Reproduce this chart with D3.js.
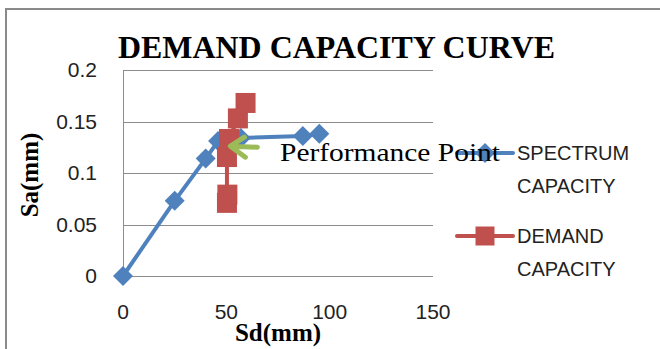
<!DOCTYPE html>
<html>
<head>
<meta charset="utf-8">
<script src="https://cdn.jsdelivr.net/npm/d3@7"></script>
<style>
  body { margin: 0; background: #fff; }
  svg { display: block; }
</style>
</head>
<body>
<script>
var width = 660,
    height = 349;

// spectrum capacity curve (Sd mm, Sa)
var spectrumSd = [0, 25, 40, 46, 57, 87, 95];
var spectrumSa = [0, 0.073, 0.114, 0.131, 0.134, 0.136, 0.138];

// demand curve
var demandSd = [50.5, 50.3, 50.3, 51.3, 55.6, 59.3];
var demandSa = [0.079, 0.071, 0.1155, 0.133, 0.153, 0.168];

var xTicks = [0, 50, 100, 150];
var yTicks = [0, 0.05, 0.1, 0.15, 0.2];

var perfPoint = [51, 0.126];

var blue = "#4f81bd", red = "#c0504d", green = "#9bbb59";

var svg = d3.select("body").append("svg")
    .attr("width", width)
    .attr("height", height);

// chart border
svg.append("rect")
    .attr("x", 6).attr("y", 9)
    .attr("width", 700).attr("height", 400)
    .attr("fill", "none")
    .attr("stroke", "#8a8a8a")
    .attr("stroke-width", 2);

var x = d3.scaleLinear().domain([0, 150]).range([123, 433]);
var y = d3.scaleLinear().domain([0, 0.2]).range([276, 70]);

// gridlines
svg.append("g")
  .selectAll("line")
    .data(yTicks)
  .enter().append("line")
    .attr("x1", x(0)).attr("x2", x(150))
    .attr("y1", function(d) { return Math.round(y(d)) + 0.5; })
    .attr("y2", function(d) { return Math.round(y(d)) + 0.5; })
    .attr("stroke", "#8c8c8c")
    .attr("stroke-width", 1);

svg.append("line")
    .attr("x1", x(0) + 0.5).attr("x2", x(0) + 0.5)
    .attr("y1", y(0.2)).attr("y2", y(0))
    .attr("stroke", "#8c8c8c");

var tickFont = "'Liberation Sans', Arial, sans-serif";

svg.append("g")
  .selectAll("text")
    .data(yTicks)
  .enter().append("text")
    .attr("x", 97)
    .attr("y", function(d) { return y(d); })
    .attr("dy", "0.35em")
    .attr("text-anchor", "end")
    .style("font-family", tickFont)
    .style("font-size", "21px")
    .style("fill", "#222")
    .text(function(d) { return d; });

svg.append("g")
  .selectAll("text")
    .data(xTicks)
  .enter().append("text")
    .attr("x", function(d) { return x(d); })
    .attr("y", 312)
    .attr("dy", "0.35em")
    .attr("text-anchor", "middle")
    .style("font-family", tickFont)
    .style("font-size", "21px")
    .style("fill", "#222")
    .text(function(d) { return d; });

// titles
var serif = "'Liberation Serif', 'Times New Roman', serif";

svg.append("text")
    .attr("x", 118).attr("y", 58)
    .attr("textLength", 437)
    .attr("lengthAdjust", "spacingAndGlyphs")
    .style("font-family", serif)
    .style("font-weight", "bold")
    .style("font-size", "32px")
    .text("DEMAND CAPACITY CURVE");

svg.append("text")
    .attr("x", x(75)).attr("y", 341)
    .attr("text-anchor", "middle")
    .style("font-family", serif)
    .style("font-weight", "bold")
    .style("font-size", "25px")
    .text("Sd(mm)");

svg.append("text")
    .attr("transform", "translate(38," + (y(0.1) + 2) + ") rotate(-90)")
    .attr("text-anchor", "middle")
    .style("font-family", serif)
    .style("font-weight", "bold")
    .style("font-size", "25px")
    .text("Sa(mm)");

var line = d3.line()
    .x(function(d) { return x(d[0]); })
    .y(function(d) { return y(d[1]); });

var spectrum = d3.zip(spectrumSd, spectrumSa);
var demand = d3.zip(demandSd, demandSa);

// spectrum series
svg.append("path")
    .datum(spectrum)
    .attr("d", line)
    .attr("fill", "none")
    .attr("stroke", blue)
    .attr("stroke-width", 4)
    .attr("stroke-linejoin", "round");

svg.append("g")
  .selectAll("path")
    .data(spectrum)
  .enter().append("path")
    .attr("d", d3.symbol().type(d3.symbolSquare).size(200))
    .attr("transform", function(d) { return "translate(" + x(d[0]) + "," + y(d[1]) + ") rotate(45)"; })
    .attr("fill", blue);

// demand series
svg.append("path")
    .datum(demand)
    .attr("d", line)
    .attr("fill", "none")
    .attr("stroke", red)
    .attr("stroke-width", 4)
    .attr("stroke-linejoin", "round");

svg.append("g")
  .selectAll("rect")
    .data(demand)
  .enter().append("rect")
    .attr("x", function(d) { return x(d[0]) - 10; })
    .attr("y", function(d) { return y(d[1]) - 10; })
    .attr("width", 20).attr("height", 20)
    .attr("fill", red);

// performance point arrow
var px = x(perfPoint[0]), py = y(perfPoint[1]);
svg.append("path")
    .attr("d", "M" + (px + 29) + "," + (py + 1) + "L" + (px + 2) + "," + py
      + "M" + (px + 16) + "," + (py - 9) + "L" + (px + 2) + "," + py + "L" + (px + 17) + "," + (py + 11))
    .attr("fill", "none")
    .attr("stroke", green)
    .attr("stroke-width", 5)
    .attr("stroke-linecap", "round")
    .attr("stroke-linejoin", "round");

// legend
var legend = svg.append("g")
  .selectAll("g")
    .data([
      { name: ["SPECTRUM", "CAPACITY"], color: blue, shape: "diamond", y: 153 },
      { name: ["DEMAND", "CAPACITY"], color: red, shape: "square", y: 236 }
    ])
  .enter().append("g");

legend.append("line")
    .attr("x1", 457).attr("x2", 513)
    .attr("y1", function(d) { return d.y; })
    .attr("y2", function(d) { return d.y; })
    .attr("stroke", function(d) { return d.color; })
    .attr("stroke-width", 4)
    .attr("stroke-linecap", "round");

legend.append("path")
    .attr("d", function(d) {
      return d3.symbol().type(d3.symbolSquare).size(d.shape == "diamond" ? 200 : 361)();
    })
    .attr("transform", function(d) {
      return "translate(485," + d.y + ")" + (d.shape == "diamond" ? " rotate(45)" : "");
    })
    .attr("fill", function(d) { return d.color; });

legend.each(function(d) {
  var t = d3.select(this).append("text")
      .style("font-family", tickFont)
      .style("font-size", "20px")
      .style("fill", "#222");
  d.name.forEach(function(s, i) {
    t.append("tspan")
        .attr("x", 517)
        .attr("y", d.y + 7 + i * 33)
        .text(s);
  });
});

// data label drawn over the legend, as in the original
svg.append("text")
    .attr("x", 280).attr("y", 161)
    .attr("textLength", 220)
    .attr("lengthAdjust", "spacingAndGlyphs")
    .style("font-family", serif)
    .style("font-size", "25px")
    .text("Performance Point");
</script>
</body>
</html>
